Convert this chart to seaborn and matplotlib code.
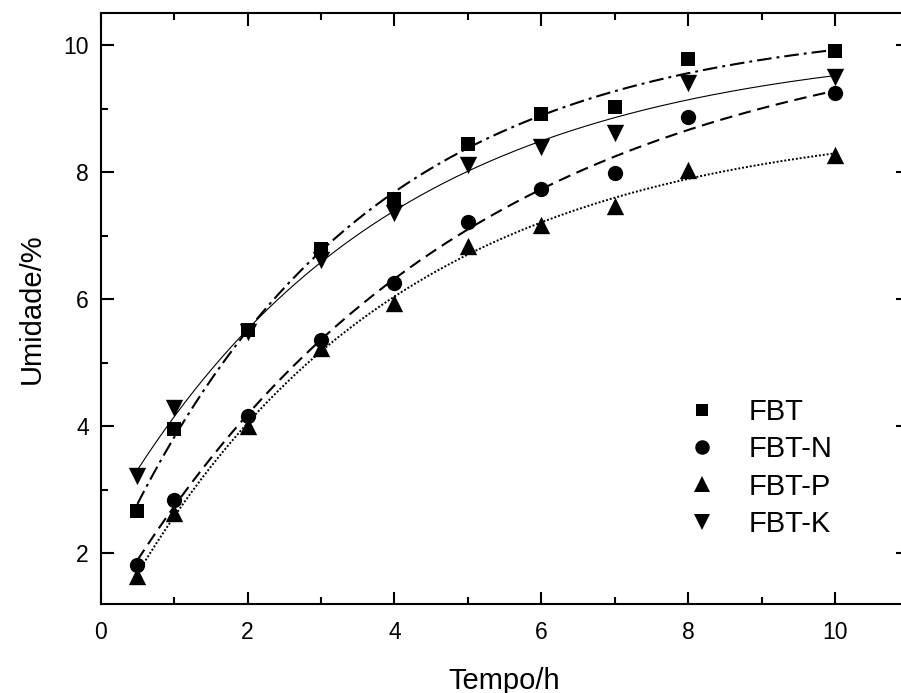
import numpy as np
import matplotlib
matplotlib.use("Agg")
import matplotlib.pyplot as plt
import seaborn as sns
from matplotlib.lines import Line2D
from matplotlib.ticker import FixedLocator

# ---- data ----
tempo = [0.5, 1, 2, 3, 4, 5, 6, 7, 8, 10]
fbt   = [2.67, 3.96, 5.52, 6.79, 7.57, 8.44, 8.91, 9.03, 9.78, 9.91]
fbt_n = [1.82, 2.84, 4.16, 5.36, 6.26, 7.22, 7.74, 7.99, 8.87, 9.25]
fbt_p = [1.64, 2.64, 4.01, 5.23, 5.94, 6.83, 7.17, 7.46, 8.03, 8.27]
fbt_k = [3.21, 4.29, 5.49, 6.62, 7.35, 8.11, 8.40, 8.61, 9.40, 9.50]
labels = ["FBT", "FBT-N", "FBT-P", "FBT-K"]
x_ticks = [0, 2, 4, 6, 8, 10]
y_ticks = [2, 4, 6, 8, 10]

sns.set_style("white")
plt.rcParams["font.family"] = ["Liberation Sans", "DejaVu Sans"]
plt.rcParams["text.color"] = "black"
plt.rcParams["axes.labelcolor"] = "black"
plt.rcParams["xtick.color"] = "black"
plt.rcParams["ytick.color"] = "black"


def exp_fit(x, y):
    """Least-squares fit y = a + b*exp(-k x) (the fitted curves of the figure)."""
    x = np.asarray(x, float)
    y = np.asarray(y, float)
    best = None
    for k in np.linspace(0.01, 2.0, 2000):
        A = np.column_stack([np.ones_like(x), np.exp(-k * x)])
        coef, *_ = np.linalg.lstsq(A, y, rcond=None)
        r = np.sum((A @ coef - y) ** 2)
        if best is None or r < best[0]:
            best = (r, k, coef)
    _, k, (a, b) = best
    xf = np.linspace(min(x), max(x), 300)
    return xf, a + b * np.exp(-k * xf)


fig = plt.figure(figsize=(9.01, 6.93), dpi=100)
ax = fig.add_axes([0.1118, 0.1284, 0.8965, 0.8524])

series = [fbt, fbt_n, fbt_p, fbt_k]
markers = ["s", "o", "^", "v"]
msizes = [9.5, 11, 12.5, 12.5]
lstyles = [(0, (7.0, 2.4, 1.4, 2.4)), (0, (6.0, 3.2)), (0, (1.0, 1.0)), "-"]
lwidths = [1.5, 1.5, 1.4, 0.8]

for vals, m, ms, ls, lw in zip(series, markers, msizes, lstyles, lwidths):
    xf, yf = exp_fit(tempo, vals)
    sns.lineplot(x=xf, y=yf, ax=ax, color="black", linewidth=lw,
                 linestyle=ls, zorder=2)
    sns.scatterplot(x=tempo, y=vals, ax=ax, marker=m, s=ms ** 2,
                    color="black", edgecolor="black", linewidth=0, zorder=3)

ax.set_xlim(0, 11)
ax.set_ylim(1.2, 10.5)
ax.xaxis.set_major_locator(FixedLocator(x_ticks))
ax.xaxis.set_minor_locator(FixedLocator([1, 3, 5, 7, 9]))
ax.yaxis.set_major_locator(FixedLocator(y_ticks))
ax.yaxis.set_minor_locator(FixedLocator([3, 5, 7, 9]))
ax.set_xticklabels([str(t) for t in x_ticks])
ax.set_yticklabels([str(t) for t in y_ticks])

ax.tick_params(which="both", direction="in", top=True, right=True,
               bottom=True, left=True, width=1.5, colors="black")
ax.tick_params(which="major", length=9)
ax.tick_params(which="minor", length=4.8)
ax.tick_params(which="minor", right=False)
ax.tick_params(axis="x", labelsize=16.5, pad=12.5)
ax.tick_params(axis="y", labelsize=16.5, pad=8.5)

for sp in ax.spines.values():
    sp.set_linewidth(1.5)
    sp.set_color("black")
    sp.set_visible(True)

ax.set_xlabel("Tempo/h", fontsize=21, labelpad=16)
ax.set_ylabel("Umidade/%", fontsize=21, labelpad=13)

handles = [Line2D([], [], marker=m, linestyle="none", color="black",
                  markersize=ms * 0.95, markeredgewidth=0)
           for m, ms in zip(markers, msizes)]
ax.legend(handles, labels, loc="upper left", frameon=False,
          bbox_to_anchor=(690 / 901, 1 - 398 / 693),
          bbox_transform=fig.transFigure, prop={"size": 21},
          handlelength=0.8, handletextpad=1.2, labelspacing=0.32,
          borderpad=0, borderaxespad=0)

fig.savefig("out.png", dpi=100)
